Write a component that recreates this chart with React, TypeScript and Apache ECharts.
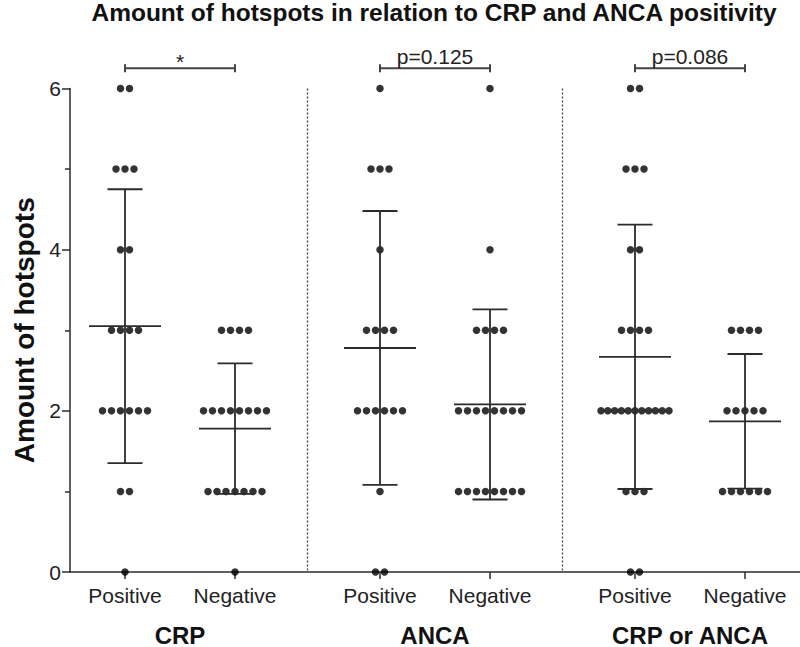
import React, { useEffect, useRef } from "react";
import * as echarts from "echarts";

const chartTitle = "Amount of hotspots in relation to CRP and ANCA positivity";
const yAxisName = "Amount of hotspots";
const subgroupLabels = ["Positive", "Negative"];
const groupLabels = ["CRP", "ANCA", "CRP or ANCA"];
const significanceLabels = ["*", "p=0.125", "p=0.086"];

// individual observations (amount of hotspots per patient)
const crpPositive = [6, 6, 5, 5, 5, 4, 4, 3, 3, 3, 3, 2, 2, 2, 2, 2, 2, 1, 1, 0];
const crpNegative = [3, 3, 3, 3, 2, 2, 2, 2, 2, 2, 2, 2, 1, 1, 1, 1, 1, 1, 1, 0];
const ancaPositive = [6, 5, 5, 5, 4, 3, 3, 3, 3, 2, 2, 2, 2, 2, 2, 1, 0, 0];
const ancaNegative = [6, 4, 3, 3, 3, 3, 2, 2, 2, 2, 2, 2, 2, 2, 1, 1, 1, 1, 1, 1, 1, 1];
const eitherPositive = [6, 6, 5, 5, 5, 4, 4, 3, 3, 3, 3, 2, 2, 2, 2, 2, 2, 2, 2, 2, 2, 2, 1, 1, 1, 0, 0];
const eitherNegative = [3, 3, 3, 3, 2, 2, 2, 2, 2, 1, 1, 1, 1, 1, 1];

// mean and standard deviation as drawn (Positive/Negative for CRP, ANCA, CRP or ANCA)
const groupMeans = [3.05, 1.78, 2.78, 2.08, 2.67, 1.87];
const groupSDs = [1.7, 0.81, 1.7, 1.18, 1.64, 0.835];

const yTickValues = [0, 2, 4, 6];

const allGroups = [crpPositive, crpNegative, ancaPositive, ancaNegative, eitherPositive, eitherNegative];

// layout (x axis is a plain value scale in which categories are placed)
const X_MAX = 146;
const FIRST = 11;
const GROUP_STEP = 51;
const SUB_STEP = 22;
const DOT_STEP = 1.8;
const MAX_SPAN = 13.6;
const BRACKET_Y = 6.25;
const FONT = "'Liberation Sans', Arial, Helvetica, sans-serif";
const INK = "#2b2b2b";

const positions: number[] = [];
groupLabels.forEach((_, gi) => {
  subgroupLabels.forEach((_, j) => positions.push(FIRST + gi * GROUP_STEP + j * SUB_STEP));
});
const groupCenters = groupLabels.map((_, gi) => (positions[gi * 2] + positions[gi * 2 + 1]) / 2);
const separators = groupLabels.slice(1).map((_, gi) => (positions[gi * 2 + 1] + positions[gi * 2 + 2]) / 2);

function buildDots() {
  const out: number[][] = [];
  allGroups.forEach((vals, k) => {
    const counts = new Map<number, number>();
    vals.forEach((v) => counts.set(v, (counts.get(v) || 0) + 1));
    counts.forEach((n, v) => {
      const step = n > 1 ? Math.min(DOT_STEP, MAX_SPAN / (n - 1)) : 0;
      for (let i = 0; i < n; i++) out.push([positions[k] + (i - (n - 1) / 2) * step, v]);
    });
  });
  return out;
}

export default function App() {
  const ref = useRef<HTMLDivElement>(null);
  useEffect(() => {
    document.body.style.margin = "0";
    if (!ref.current) return;
    const chart = echarts.init(ref.current, null, { renderer: "svg" });
    const lineStyle = { stroke: INK, lineWidth: 1.8, fill: "none" };

    const option: any = {
      animation: false,
      backgroundColor: "#ffffff",
      textStyle: { fontFamily: FONT },
      title: {
        text: chartTitle,
        left: 434,
        textAlign: "center",
        top: 0,
        padding: 0,
        textStyle: { fontFamily: FONT, fontSize: 24.5, fontWeight: "bold", color: "#111" },
      },
      grid: { left: 70, right: 0, top: 88.5, bottom: 73.5, containLabel: false },
      xAxis: [
        {
          type: "value",
          min: 0,
          max: X_MAX,
          position: "bottom",
          axisLine: { show: true, onZero: false, lineStyle: { color: INK, width: 1.5 } },
          splitLine: { show: false },
          axisTick: { show: true, customValues: positions, length: 7, lineStyle: { color: INK, width: 1.5 } },
          axisLabel: {
            customValues: positions,
            formatter: (v: number) => {
              const i = positions.findIndex((p) => Math.abs(p - v) < 0.01);
              return i >= 0 ? subgroupLabels[i % 2] : "";
            },
            fontFamily: FONT,
            fontSize: 21,
            color: "#222",
            margin: 13,
          },
        },
        {
          type: "value",
          min: 0,
          max: X_MAX,
          position: "bottom",
          axisLine: { show: false },
          splitLine: { show: false },
          axisTick: { show: false },
          axisLabel: {
            customValues: groupCenters,
            formatter: (v: number) => {
              const i = groupCenters.findIndex((p) => Math.abs(p - v) < 0.01);
              return i >= 0 ? groupLabels[i] : "";
            },
            fontFamily: FONT,
            fontSize: 24,
            fontWeight: "bold",
            color: "#111",
            margin: 51,
          },
        },
      ],
      yAxis: {
        type: "value",
        min: yTickValues[0],
        max: yTickValues[yTickValues.length - 1],
        interval: yTickValues[1] - yTickValues[0],
        axisLine: { show: true, lineStyle: { color: INK, width: 1.5 } },
        axisTick: { show: true, length: 8, lineStyle: { color: INK, width: 1.5 } },
        minorTick: { show: true, splitNumber: 2, length: 5, lineStyle: { color: INK, width: 1.5 } },
        splitLine: { show: false },
        minorSplitLine: { show: false },
        axisLabel: { fontFamily: FONT, fontSize: 21, color: "#222", margin: 9 },
        name: yAxisName,
        nameLocation: "middle",
        nameGap: 32,
        nameTextStyle: { fontFamily: FONT, fontSize: 28, fontWeight: "bold", color: "#111" },
      },
      series: [
        {
          type: "custom",
          name: "separators",
          clip: false,
          silent: true,
          data: separators.map((x) => [x, 0]),
          encode: { x: 0, y: 1 },
          renderItem: (params: any, api: any) => {
            const x = api.value(0);
            const top = api.coord([x, yTickValues[yTickValues.length - 1]]);
            const bottom = api.coord([x, yTickValues[0]]);
            return {
              type: "line",
              shape: { x1: top[0], y1: top[1], x2: bottom[0], y2: bottom[1] },
              style: { stroke: "#444", lineWidth: 1.3, lineDash: [2, 2] },
            };
          },
        },
        {
          type: "scatter",
          name: "dots",
          clip: false,
          symbol: "circle",
          symbolSize: 7.5,
          itemStyle: { color: "#000" },
          data: buildDots(),
          z: 3,
        },
        {
          type: "custom",
          name: "mean ± SD",
          clip: false,
          data: positions.map((x, k) => [x, groupMeans[k], groupSDs[k]]),
          encode: { x: 0, y: 1 },
          z: 4,
          renderItem: (params: any, api: any) => {
            const x = api.value(0);
            const m = api.value(1);
            const s = api.value(2);
            const c = api.coord([x, m]);
            const hi = api.coord([x, m + s]);
            const lo = api.coord([x, m - s]);
            return {
              type: "group",
              children: [
                { type: "line", shape: { x1: c[0], y1: hi[1], x2: c[0], y2: lo[1] }, style: lineStyle },
                { type: "line", shape: { x1: c[0] - 17.5, y1: hi[1], x2: c[0] + 17.5, y2: hi[1] }, style: lineStyle },
                { type: "line", shape: { x1: c[0] - 17.5, y1: lo[1], x2: c[0] + 17.5, y2: lo[1] }, style: lineStyle },
                { type: "line", shape: { x1: c[0] - 36, y1: c[1], x2: c[0] + 36, y2: c[1] }, style: lineStyle },
              ],
            };
          },
        },
        {
          type: "custom",
          name: "significance",
          clip: false,
          data: groupLabels.map((_, gi) => [positions[gi * 2], positions[gi * 2 + 1], BRACKET_Y, gi]),
          encode: { x: [0, 1], y: 2 },
          renderItem: (params: any, api: any) => {
            const a = api.coord([api.value(0), api.value(2)]);
            const b = api.coord([api.value(1), api.value(2)]);
            const label = significanceLabels[api.value(3)];
            const st = { stroke: "#444", lineWidth: 2, fill: "none" };
            const isStar = label === "*";
            return {
              type: "group",
              children: [
                { type: "line", shape: { x1: a[0], y1: a[1], x2: b[0], y2: b[1] }, style: st },
                { type: "line", shape: { x1: a[0], y1: a[1] - 4, x2: a[0], y2: a[1] + 4 }, style: st },
                { type: "line", shape: { x1: b[0], y1: b[1] - 4, x2: b[0], y2: b[1] + 4 }, style: st },
                {
                  type: "text",
                  x: (a[0] + b[0]) / 2,
                  y: a[1] - (isStar ? -4 : 1),
                  style: {
                    text: label,
                    fontFamily: FONT,
                    fontSize: 21,
                    fill: "#222",
                    align: "center",
                    verticalAlign: "bottom",
                  },
                },
              ],
            };
          },
        },
      ],
    };
    chart.setOption(option);
    return () => chart.dispose();
  }, []);
  return <div ref={ref} style={{ width: 800, height: 647 }} />;
}
